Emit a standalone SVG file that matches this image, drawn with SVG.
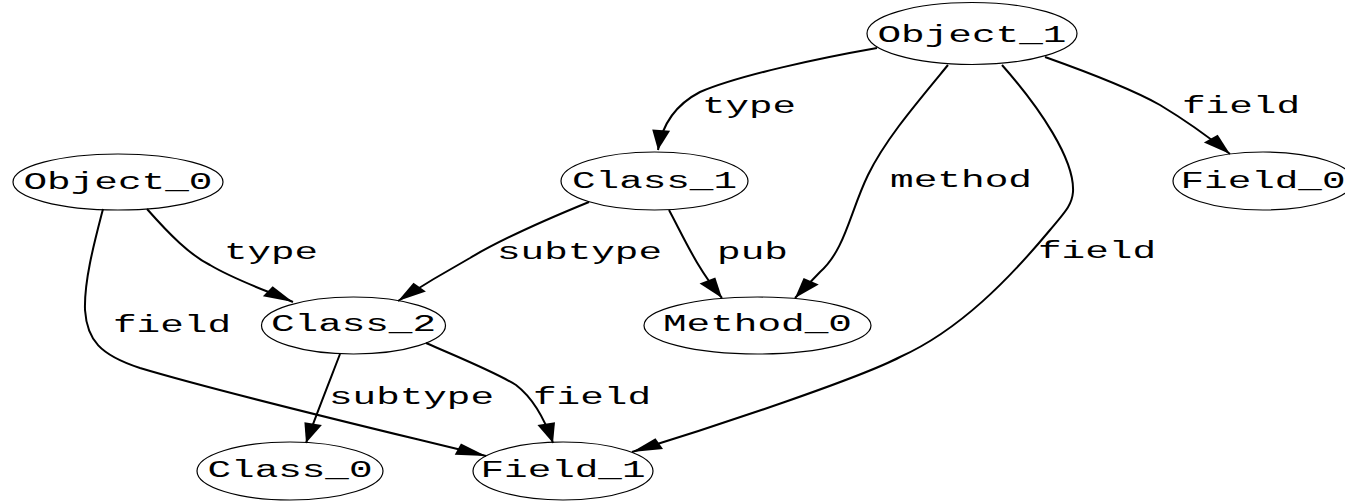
<svg xmlns="http://www.w3.org/2000/svg" width="1345" height="502" viewBox="0 0 1345 502">
  <style>
    .node ellipse { fill: none; stroke: #000; stroke-width: 1.2; }
    .node text, .lbl { font-family: "Liberation Mono", "DejaVu Sans Mono", monospace; font-size: 23px; fill: #000; }
    .node text { text-anchor: middle; }
    .edge { fill: none; stroke: #000; stroke-width: 2; vector-effect: non-scaling-stroke; marker-end: url(#arrow); }
  </style>
  <defs>
    <!-- arrowhead drawn in the horizontally stretched edge space -->
    <marker id="arrow" markerUnits="userSpaceOnUse" markerWidth="22" markerHeight="14" refX="20" refY="6" orient="auto" overflow="visible">
      <path d="M0,0 L20,6 L0,12 Z" fill="#000"/>
    </marker>
  </defs>
  <rect width="1345" height="502" fill="#fff"/>

  <!-- connectors: x coordinates are divided by 1.5 and stretched back by the group transform -->
  <g id="connectors" transform="scale(1.5 1)">
    <path id="e_obj1_class1" class="edge" d="M584.67,48 C546.67,58 493.33,75 466.67,92 C450,105 441.33,125 438.67,150"/>
    <path id="e_obj1_method0" class="edge" d="M632,65 C610,105 590,140 578.67,175 C566.67,212 563.33,250 546.67,272 L530,298"/>
    <path id="e_obj1_field1" class="edge" d="M668,65 C693.33,108 716.67,160 715.33,192 C714.67,205 710,212 700,230 C673.33,278 640,330 600,357 C573.33,378 480,425 421.33,452"/>
    <path id="e_obj1_field0" class="edge" d="M696.67,57 C726.67,73 753.33,88 773.33,105 C790,120 806.67,138 820,154"/>
    <path id="e_obj0_class2" class="edge" d="M98,209 C113.33,235 126.67,255 140,265 C156.67,280 176.67,290 195.33,302"/>
    <path id="e_obj0_field1" class="edge" d="M68.67,209 C63.33,240 56,280 56.67,310 C58,340 66.67,355 93.33,368 C153.33,395 253.33,430 324,456"/>
    <path id="e_class1_class2" class="edge" d="M392.67,202 C360,222 333.33,240 313.33,258 C296.67,272 280,287 265.33,301"/>
    <path id="e_class1_method0" class="edge" d="M446,210 C456.67,240 464.67,268 481.33,298"/>
    <path id="e_class2_class0" class="edge" d="M226.67,354 C221.33,375 213.33,405 204,443"/>
    <path id="e_class2_field1" class="edge" d="M284,343 C306.67,358 330,372 344,385 C355.33,398 363.33,420 368.67,443"/>
  </g>

  <!-- edge labels -->
  <g id="edge-labels">
    <text class="lbl" x="702" y="113" textLength="94" lengthAdjust="spacingAndGlyphs">type</text>
    <text class="lbl" x="890" y="187" textLength="142" lengthAdjust="spacingAndGlyphs">method</text>
    <text class="lbl" x="1038" y="258" textLength="118" lengthAdjust="spacingAndGlyphs">field</text>
    <text class="lbl" x="1182" y="113" textLength="118" lengthAdjust="spacingAndGlyphs">field</text>
    <text class="lbl" x="224" y="259" textLength="94" lengthAdjust="spacingAndGlyphs">type</text>
    <text class="lbl" x="113" y="332" textLength="118" lengthAdjust="spacingAndGlyphs">field</text>
    <text class="lbl" x="497" y="259" textLength="165" lengthAdjust="spacingAndGlyphs">subtype</text>
    <text class="lbl" x="717" y="259" textLength="71" lengthAdjust="spacingAndGlyphs">pub</text>
    <text class="lbl" x="329" y="404" textLength="165" lengthAdjust="spacingAndGlyphs">subtype</text>
    <text class="lbl" x="533" y="404" textLength="118" lengthAdjust="spacingAndGlyphs">field</text>
  </g>

  <g id="Object_1" class="node">
    <ellipse cx="972" cy="33.5" rx="105" ry="31"/>
    <text x="972" y="42" textLength="189" lengthAdjust="spacingAndGlyphs">Object_1</text>
  </g>
  <g id="Object_0" class="node">
    <ellipse cx="118" cy="182" rx="105" ry="28"/>
    <text x="118" y="189" textLength="189" lengthAdjust="spacingAndGlyphs">Object_0</text>
  </g>
  <g id="Class_1" class="node">
    <ellipse cx="654.5" cy="181" rx="93.5" ry="29"/>
    <text x="654.5" y="188" textLength="165" lengthAdjust="spacingAndGlyphs">Class_1</text>
  </g>
  <g id="Field_0" class="node">
    <ellipse cx="1263" cy="181" rx="90" ry="29"/>
    <text x="1263" y="188" textLength="165" lengthAdjust="spacingAndGlyphs">Field_0</text>
  </g>
  <g id="Class_2" class="node">
    <ellipse cx="353.5" cy="325.5" rx="92" ry="28.5"/>
    <text x="353.5" y="331" textLength="165" lengthAdjust="spacingAndGlyphs">Class_2</text>
  </g>
  <g id="Method_0" class="node">
    <ellipse cx="757.5" cy="325.5" rx="113.5" ry="28.5"/>
    <text x="757.5" y="331" textLength="189" lengthAdjust="spacingAndGlyphs">Method_0</text>
  </g>
  <g id="Class_0" class="node">
    <ellipse cx="290" cy="471" rx="93" ry="29"/>
    <text x="290" y="477" textLength="165" lengthAdjust="spacingAndGlyphs">Class_0</text>
  </g>
  <g id="Field_1" class="node">
    <ellipse cx="563" cy="471" rx="90" ry="29"/>
    <text x="563" y="477" textLength="165" lengthAdjust="spacingAndGlyphs">Field_1</text>
  </g>
</svg>
